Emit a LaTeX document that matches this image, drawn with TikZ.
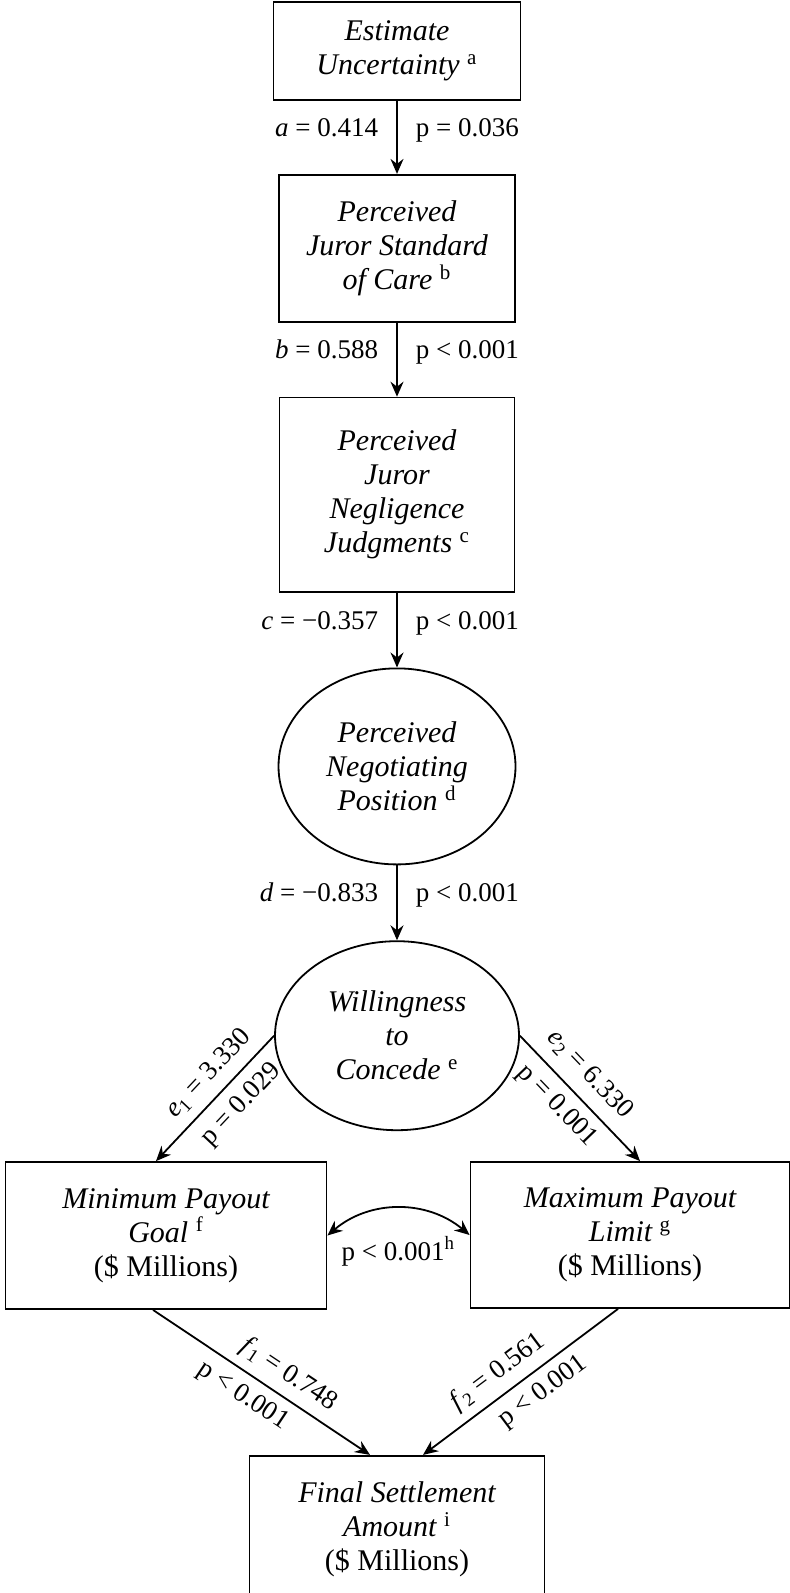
\documentclass[tikz,border=0pt]{standalone}
\usepackage{fontspec}
\setmainfont{Liberation Serif}
\usepackage{tikz}
\usetikzlibrary{shapes,arrows.meta,positioning}
\newcommand{\fnmark}[1]{\textsuperscript{\upshape #1}}
\tikzset{
      varbox/.style   = {rectangle, draw, line width=0.9pt, align=center, inner sep=0pt, font=\fontsize{15}{17}\selectfont\itshape},
      varoval/.style  = {ellipse, draw, line width=0.9pt, align=center, inner sep=0pt, font=\fontsize{15}{17}\selectfont\itshape},
      pathedge/.style = {black, line width=0.9pt, ->, >={Stealth[length=7.5pt,width=6.5pt,inset=2.5pt]}},
      coef/.style     = {inner sep=0pt, text height=9.5pt, text depth=3pt, font=\fontsize{13.5}{15}\selectfont},
    }

\begin{document}
\begin{tikzpicture}[x=0.5pt, y=-0.5pt]
        \useasboundingbox (0,0) rectangle (790,1593);
        \node [varbox, minimum width=123.5pt, minimum height=49pt] (est) at (397,51) {Estimate\\Uncertainty \fnmark{a}};
        \node [varbox, minimum width=118pt, minimum height=73.5pt, below=36.5pt of est] (care) {Perceived\\Juror Standard\\of Care \fnmark{b}};
        \node [varbox, minimum width=117.5pt, minimum height=97pt, below=37pt of care] (negl) {Perceived\\Juror\\Negligence\\Judgments \fnmark{c}};
        \node [varoval, minimum width=118.5pt, minimum height=98pt, below=37.5pt of negl] (negpos) {Perceived\\Negotiating\\Position \fnmark{d}};
        \node [varoval, minimum width=122pt, minimum height=94.5pt, below=37.5pt of negpos] (will) {Willingness\\to\\Concede \fnmark{e}};
        \node [varbox, minimum width=160.5pt, minimum height=73.5pt, below=15pt of will, xshift=-115.5pt] (minbox) {Minimum Payout\\Goal \fnmark{f}\\\upshape(\$ Millions)};
        \node [varbox, minimum width=159.5pt, minimum height=73pt, below=15pt of will, xshift=116.5pt] (maxbox) {Maximum Payout\\Limit \fnmark{g}\\\upshape(\$ Millions)};
        \coordinate (mid) at (will |- minbox.south);
        \node [varbox, minimum width=147.5pt, minimum height=73.5pt, below=72.5pt of mid] (final) {Final Settlement\\Amount \fnmark{i}\\\upshape(\$ Millions)};

        \path (est) edge[pathedge] node[coef, pos=0.4, left=9pt] {\textit{a} = 0.414} node[coef, pos=0.4, right=9pt] {p = 0.036} (care);
        \path (care) edge[pathedge] node[coef, pos=0.4, left=9pt] {\textit{b} = 0.588} node[coef, pos=0.4, right=9pt] {p < 0.001} (negl);
        \path (negl) edge[pathedge] node[coef, pos=0.4, left=9pt] {\textit{c} = −0.357} node[coef, pos=0.4, right=9pt] {p < 0.001} (negpos);
        \path (negpos) edge[pathedge] node[coef, pos=0.4, left=9pt] {\textit{d} = −0.833} node[coef, pos=0.4, right=9pt] {p < 0.001} (will);

        \path (will.west) edge[pathedge] node[coef, pos=0.42, sloped, above=4pt] {\textit{e}\textsubscript{1} = 3.330} node[coef, pos=0.42, sloped, below=5pt] {p = 0.029} ([xshift=-5pt]minbox.north);
        \path (will.east) edge[pathedge] node[coef, pos=0.44, sloped, above=5pt] {\textit{e}\textsubscript{2} = 6.330} node[coef, pos=0.44, sloped, below=4pt] {p = 0.001} ([xshift=5pt]maxbox.north);
        \path (minbox.east) edge[pathedge, <->, bend left=40] node[coef, midway, below=16pt] {p < 0.001\fnmark{h}} (maxbox.west);

        \path ([xshift=-6.5pt]minbox.south) edge[pathedge] node[coef, pos=0.57, sloped, above=4pt] {\textit{f}\textsubscript{1} = 0.748} node[coef, pos=0.47, sloped, below=4pt] {p < 0.001} ([xshift=-13.5pt]final.north);
        \path ([xshift=-6pt]maxbox.south) edge[pathedge] node[coef, pos=0.55, sloped, above=4pt] {\textit{f}\textsubscript{2} = 0.561} node[coef, pos=0.45, sloped, below=4pt] {p < 0.001} ([xshift=13pt]final.north);
\end{tikzpicture}
\end{document}
